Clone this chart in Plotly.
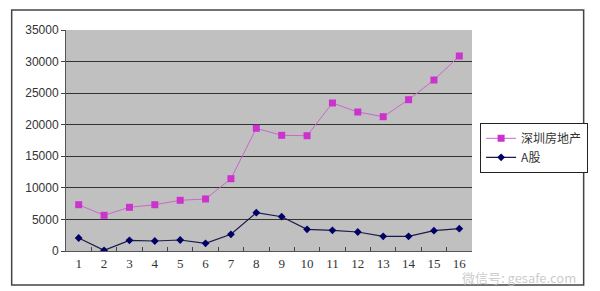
import plotly.graph_objects as go

categories = [str(i) for i in range(1, 17)]
shenzhen = [7330, 5650, 6920, 7330, 8030, 8240, 11450, 19430, 18320, 18260,
            23440, 22010, 21270, 23960, 27080, 30880]
a_share = [2060, 100, 1690, 1580, 1740, 1220, 2640, 6070, 5430, 3430,
           3270, 3010, 2320, 2320, 3220, 3540]
y_ticks = [0, 5000, 10000, 15000, 20000, 25000, 30000, 35000]
y_tick_labels = [str(v) for v in y_ticks]
names = ["深圳房地产", "A股"]

fig = go.Figure()
fig.add_trace(go.Scatter(
    x=categories, y=shenzhen, name=names[0], mode="lines+markers",
    line=dict(color="#cc66cc", width=1),
    marker=dict(symbol="square", size=7, color="#cc33cc"),
))
fig.add_trace(go.Scatter(
    x=categories, y=a_share, name=names[1], mode="lines+markers",
    line=dict(color="#1a1a4d", width=1.2),
    marker=dict(symbol="diamond", size=6, color="#000066"),
))

fig.update_layout(
    width=600, height=291,
    margin=dict(l=66, r=123, t=30, b=40),
    paper_bgcolor="white",
    plot_bgcolor="#c0c0c0",
    showlegend=True,
    legend=dict(
        x=1.02, y=0.58, xanchor="left", yanchor="top",
        bgcolor="white", bordercolor="#222", borderwidth=1,
        font=dict(family="Noto Sans CJK SC, sans-serif", size=12, color="#333"),
        tracegroupgap=0, itemwidth=30,
    ),
    xaxis=dict(
        type="category", tickson="boundaries", ticks="inside", ticklen=4,
        tickcolor="#444", showgrid=False, showline=True, linecolor="#555",
        linewidth=1,
        tickfont=dict(family="Liberation Serif, serif", size=13, color="#333"),
        range=[-0.5, 15.5],
    ),
    yaxis=dict(
        range=[0, 35000], tickvals=y_ticks, ticktext=y_tick_labels,
        ticks="outside", ticklen=4,
        tickcolor="#444", showline=True, linecolor="#555", linewidth=1,
        gridcolor="#333", gridwidth=1, zeroline=False,
        tickfont=dict(family="Liberation Sans, Arial, sans-serif", size=12, color="#333"),
    ),
    shapes=[dict(
        type="rect", xref="paper", yref="paper",
        x0=-0.1338, x1=1.275, y0=-0.1538, y1=1.0905,
        line=dict(color="#444", width=1.5), fillcolor="rgba(0,0,0,0)",
        layer="below",
    )],
    annotations=[dict(
        xref="paper", yref="paper", x=1.26, y=-0.118,
        xanchor="right", yanchor="middle", showarrow=False,
        text="微信号: gesafe.com",
        font=dict(family="Noto Sans CJK SC, sans-serif", size=13,
                  color="rgba(190,190,190,0.8)"),
    )],
)

fig.write_html("out.html")
